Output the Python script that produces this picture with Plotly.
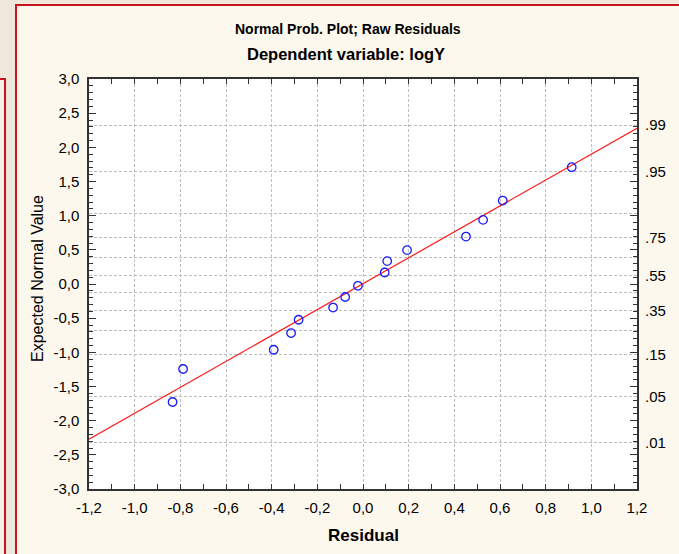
import plotly.graph_objects as go
from statistics import NormalDist

# ---- data ----
residual = [-0.834, -0.788, -0.391, -0.315, -0.282, -0.131, -0.078, -0.022,
            0.095, 0.106, 0.193, 0.451, 0.526, 0.612, 0.914]
expected = [-1.727, -1.244, -0.962, -0.718, -0.523, -0.345, -0.190, -0.026,
            0.168, 0.335, 0.496, 0.694, 0.939, 1.221, 1.709]
fit_x = [-1.2, 1.2]
fit_y = [-2.27, 2.28]

x_ticks = [-1.2, -1.0, -0.8, -0.6, -0.4, -0.2, 0.0, 0.2, 0.4, 0.6, 0.8, 1.0, 1.2]
y_ticks = [-3.0, -2.5, -2.0, -1.5, -1.0, -0.5, 0.0, 0.5, 1.0, 1.5, 2.0, 2.5, 3.0]
prob_grid = [0.01, 0.05, 0.15, 0.25, 0.35, 0.45, 0.55, 0.65, 0.75, 0.85, 0.95, 0.99]
prob_labels = [".01", ".05", ".15", "", ".35", "", ".55", "", ".75", "", ".95", ".99"]


def fmt(v):
    s = f"{v:.1f}".replace(".", ",")
    if s.startswith("-") and float(v) == 0:
        s = s[1:]
    return s


prob_z = [NormalDist().inv_cdf(p) for p in prob_grid]

# ---- geometry (pixels) ----
W, H = 679, 554
L, R, T, B = 89, 637, 79, 489


def px(xp):
    return (xp - L) / (R - L)


def py(yp):
    return (B - yp) / (B - T)


FONT = "Liberation Sans, Arial, sans-serif"
RED = "#c8141e"
GRID = "#bdbdbd"

fig = go.Figure()
fig.add_trace(go.Scatter(x=fit_x, y=fit_y, mode="lines",
                         line=dict(color="#ff1a1a", width=1.2),
                         hoverinfo="skip", showlegend=False))
fig.add_trace(go.Scatter(x=residual, y=expected, mode="markers",
                         marker=dict(symbol="circle-open", size=8.5,
                                     color="#1a1aff", line=dict(width=1.3)),
                         showlegend=False))
# invisible trace to activate y2
fig.add_trace(go.Scatter(x=[0], y=[0], yaxis="y2", mode="markers",
                         marker=dict(opacity=0), hoverinfo="skip",
                         showlegend=False))

shapes = [
    dict(type="rect", xref="paper", yref="paper", layer="below",
         x0=px(-10), x1=px(5), y0=py(600), y1=py(79),
         fillcolor="#f6f0e6", line=dict(color=RED, width=2)),
    dict(type="rect", xref="paper", yref="paper", layer="below",
         x0=px(16), x1=px(700), y0=py(600), y1=py(5),
         fillcolor="#fdf8ee", line=dict(color=RED, width=2)),
    dict(type="rect", xref="paper", yref="paper", layer="below",
         x0=0, x1=1, y0=0, y1=1, fillcolor="white", line=dict(width=0)),
]


def ann(text, x, y, size, angle=0):
    return dict(text=text, xref="paper", yref="paper", x=px(x), y=py(y),
                xanchor="center", yanchor="middle", textangle=angle,
                showarrow=False, font=dict(size=size, color="black", family=FONT))


annotations = [
    ann("<b>Normal Prob. Plot; Raw Residuals</b>", 348, 29, 14),
    ann("<b>Dependent variable: logY</b>", 346, 54, 16.5),
    ann("<b>Residual</b>", 363, 535, 17),
    ann("Expected Normal Value", 37, 279, 16, -90),
]

fig.update_layout(
    width=W, height=H,
    margin=dict(l=L, r=W - R, t=T, b=H - B),
    paper_bgcolor="#efe7da",
    plot_bgcolor="white",
    font=dict(family=FONT, size=15, color="black"),
    shapes=shapes,
    annotations=annotations,
    showlegend=False,
    xaxis=dict(range=[-1.2, 1.2], tickmode="array", tickvals=x_ticks,
               ticktext=[fmt(v) for v in x_ticks],
               ticks="inside", ticklen=5, tickcolor="#333", tickwidth=1,
               minor=dict(ticks="inside", ticklen=5, dtick=0.1, tick0=0, tickcolor="#333",
                          showgrid=False),
               showline=True, linecolor="#333", linewidth=1.5, mirror="allticks",
               showgrid=True, gridcolor=GRID, griddash="3px,2px", gridwidth=1,
               zeroline=False, tickfont=dict(size=15), ticklabelstandoff=4),
    yaxis=dict(range=[-3.0, 3.0], tickmode="array", tickvals=y_ticks,
               ticktext=[fmt(v) for v in y_ticks],
               ticks="inside", ticklen=7, tickcolor="#333", tickwidth=1,
               minor=dict(ticks="inside", ticklen=4, dtick=0.1, tick0=0, tickcolor="#333",
                          showgrid=False),
               showline=True, linecolor="#333", linewidth=1.5, mirror="allticks",
               showgrid=False, zeroline=False, tickfont=dict(size=15),
               ticklabelstandoff=5),
    yaxis2=dict(range=[-3.0, 3.0], overlaying="y", side="right",
                tickmode="array", tickvals=prob_z, ticktext=prob_labels,
                ticks="", showline=False, showgrid=True, gridcolor=GRID,
                griddash="3px,2px", gridwidth=1, zeroline=False,
                tickfont=dict(size=15), ticklabelstandoff=7),
)

fig.write_html("out.html")
